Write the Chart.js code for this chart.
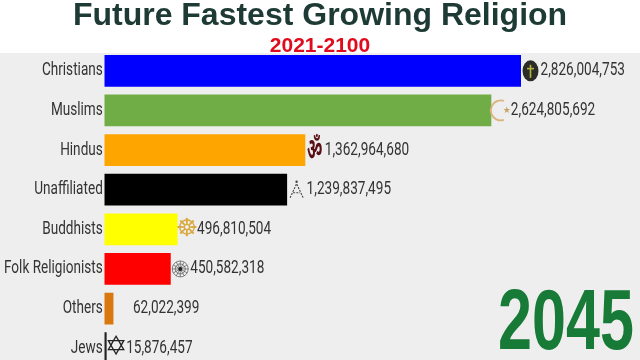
<!DOCTYPE html>
<html>
<head>
<meta charset="utf-8">
<script src="https://cdn.jsdelivr.net/npm/chart.js@4"></script>
<style>
  html, body { margin: 0; padding: 0; width: 640px; height: 360px; overflow: hidden; background: #fff; }
  canvas { display: block; }
</style>
</head>
<body>
<canvas id="race" width="640" height="368"></canvas>
<script>
const categories = ["Christians", "Muslims", "Hindus", "Unaffiliated", "Buddhists", "Folk Religionists", "Others", "Jews"];
const population = [2826004753, 2624805692, 1362964680, 1239837495, 496810504, 450582318, 62022399, 15876457];
const barColors = ["#0000ff", "#70ad47", "#ffa500", "#000000", "#ffff00", "#ff0000", "#d9780f", "#222222"];
const icons = ["cross", "crescent", "om", "atheist", "dharma", "wheel", "", "star"];
const titleText = "Future Fastest Growing Religion";
const subtitleText = "2021-2100";
const yearText = "2045";

const narrowText = (ctx, text, x, y, scaleX, align) => {
    ctx.save();
    ctx.translate(x, y);
    ctx.scale(scaleX, 1);
    ctx.textAlign = align;
    ctx.textBaseline = "middle";
    ctx.fillText(text, 0, 0);
    ctx.restore();
};

// one small drawing per religion symbol, cx/cy is the middle of the icon
const drawIcon = (ctx, name, cx, cy) => {
    ctx.save();
    ctx.textAlign = "center";
    ctx.textBaseline = "middle";
    if (name === "cross") {
        ctx.fillStyle = "#2b2b28";
        ctx.beginPath();
        ctx.ellipse(cx, cy, 8, 10.5, 0, 0, Math.PI * 2);
        ctx.fill();
        ctx.fillStyle = "#b5b53c";
        ctx.fillRect(cx - 0.8, cy - 6, 1.6, 13);
        ctx.fillRect(cx - 3.5, cy - 3, 7, 1.6);
    } else if (name === "crescent") {
        ctx.strokeStyle = "#dcb57e";
        ctx.lineWidth = 1.8;
        ctx.beginPath();
        ctx.arc(cx, cy, 10, Math.PI * 0.4, Math.PI * 1.6);
        ctx.stroke();
        ctx.fillStyle = "#c9a468";
        ctx.font = "9px 'DejaVu Sans'";
        ctx.fillText("★", cx + 6, cy);
    } else if (name === "om") {
        ctx.translate(cx, cy);
        ctx.scale(0.72, 1.45);
        ctx.fillStyle = "#5a0f14";
        ctx.font = "bold 21px 'Noto Sans', 'DejaVu Sans'";
        ctx.fillText("ॐ", 0, 0);
    } else if (name === "atheist") {
        ctx.strokeStyle = "#444444";
        ctx.lineWidth = 1.1;
        ctx.setLineDash([2, 1.2]);
        ctx.beginPath();
        ctx.moveTo(cx - 6.5, cy + 8);
        ctx.lineTo(cx, cy - 6);
        ctx.lineTo(cx + 6.5, cy + 8);
        ctx.moveTo(cx - 3.5, cy + 3);
        ctx.lineTo(cx + 3.5, cy + 3);
        ctx.stroke();
        ctx.setLineDash([]);
        ctx.fillStyle = "#444444";
        ctx.beginPath();
        ctx.arc(cx, cy - 8, 1.2, 0, Math.PI * 2);
        ctx.fill();
    } else if (name === "dharma") {
        ctx.fillStyle = "#d9a93f";
        ctx.font = "25px 'DejaVu Sans'";
        ctx.fillText("☸", cx, cy);
    } else if (name === "wheel") {
        ctx.strokeStyle = "#555555";
        ctx.lineWidth = 0.7;
        ctx.beginPath();
        ctx.arc(cx, cy, 8, 0, Math.PI * 2);
        ctx.moveTo(cx + 5, cy);
        ctx.arc(cx, cy, 5, 0, Math.PI * 2);
        for (let a = 0; a < 12; a++) {
            const t = a * Math.PI / 6;
            ctx.moveTo(cx, cy);
            ctx.lineTo(cx + Math.cos(t) * 8, cy + Math.sin(t) * 8);
        }
        ctx.stroke();
        ctx.fillStyle = "#222222";
        ctx.beginPath();
        ctx.arc(cx, cy, 2, 0, Math.PI * 2);
        ctx.fill();
    } else if (name === "star") {
        ctx.fillStyle = "#222222";
        ctx.font = "27px 'DejaVu Sans'";
        ctx.fillText("✡", cx, cy);
    }
    ctx.restore();
};

// grey panel behind the bars
const panel = {
    id: "panel",
    beforeDraw(chart) {
        const ctx = chart.ctx;
        ctx.save();
        ctx.fillStyle = "#ffffff";
        ctx.fillRect(0, 0, chart.width, chart.height);
        ctx.fillStyle = "#eeeeee";
        ctx.fillRect(0, 53, chart.width, chart.height - 53);
        ctx.restore();
    }
};

// condensed labels, value text, icons and the big year
const raceLabels = {
    id: "raceLabels",
    afterDatasetsDraw(chart) {
        const ctx = chart.ctx;
        const x = chart.scales.x;
        const y = chart.scales.y;
        ctx.save();
        ctx.font = "18px Roboto";
        ctx.fillStyle = "#333333";
        categories.forEach((name, i) => {
            const cy = y.getPixelForValue(i);
            const end = x.getPixelForValue(population[i]);
            narrowText(ctx, name, x.left - 1.5, cy, 0.755, "right");
            narrowText(ctx, population[i].toLocaleString("en-US"), end + 19.5, cy, 0.755, "left");
            drawIcon(ctx, icons[i], end + 9.5, cy);
        });
        ctx.font = "bold 86px 'Liberation Sans'";
        ctx.fillStyle = "#177a37";
        narrowText(ctx, yearText, 566, 325, 0.71, "center");
        ctx.restore();
    }
};

new Chart(document.getElementById("race"), {
    type: "bar",
    data: {
        labels: categories,
        datasets: [{
            data: population,
            backgroundColor: barColors,
            categoryPercentage: 1,
            barPercentage: 0.8
        }]
    },
    plugins: [panel, raceLabels],
    options: {
        indexAxis: "y",
        responsive: false,
        animation: false,
        layout: { padding: 0 },
        plugins: {
            legend: { display: false },
            tooltip: { enabled: false },
            title: {
                display: true,
                text: titleText,
                color: "#1e3a34",
                font: { family: "'Liberation Sans'", size: 32, weight: "bold", lineHeight: 1 },
                padding: { top: 0, bottom: 2 }
            },
            subtitle: {
                display: true,
                text: subtitleText,
                color: "#e00b1c",
                font: { family: "'Liberation Sans'", size: 21, weight: "bold", lineHeight: 1 },
                padding: { top: 2, bottom: -6 }
            }
        },
        scales: {
            x: {
                display: false,
                min: 0,
                max: 3633000000
            },
            y: {
                grid: { display: false },
                border: { display: false },
                ticks: { display: false },
                afterFit(scale) { scale.width = 104.3; }
            }
        }
    }
});
</script>
</body>
</html>
